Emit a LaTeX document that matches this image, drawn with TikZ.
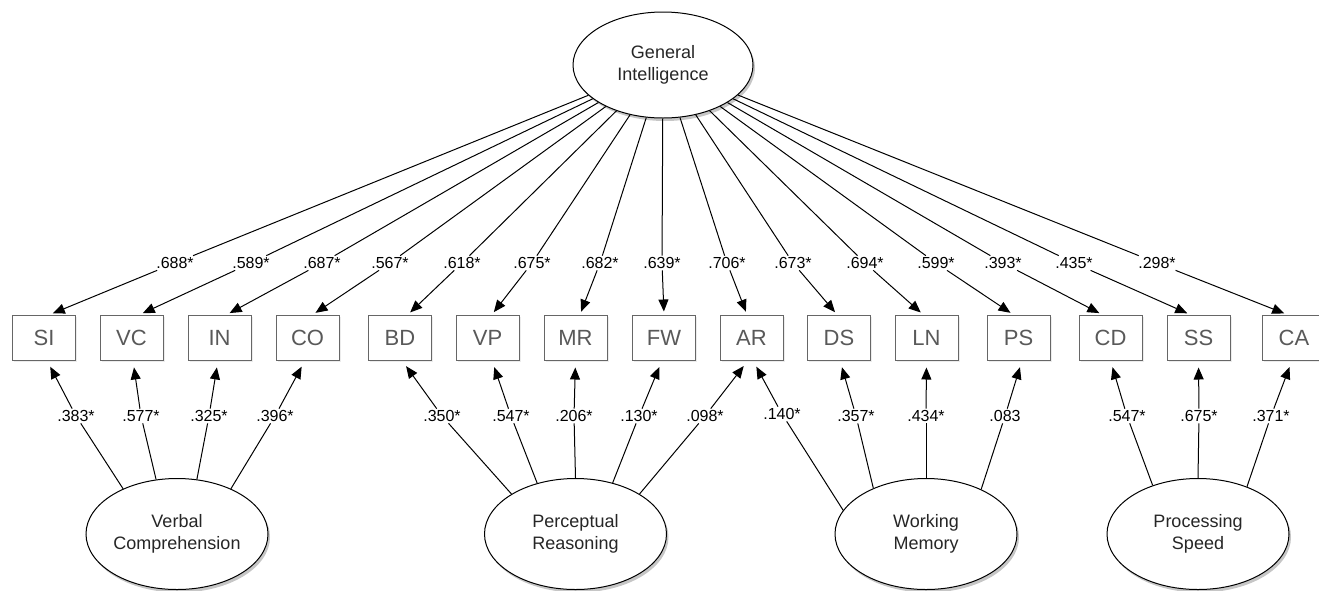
\documentclass[tikz,border=0pt]{standalone}
\usepackage{fontspec}
\setmainfont{Liberation Sans}
\usetikzlibrary{arrows.meta,shapes.geometric,shadows}
\begin{document}
\begin{tikzpicture}[x=1pt,y=-1pt,
  lat/.style={ellipse,draw=black,line width=1pt,fill=white,inner sep=0pt,
    align=center,text=black!85,font=\fontsize{18}{21.5}\selectfont,
    drop shadow={opacity=0.45,shadow xshift=2pt,shadow yshift=-3pt}},
  ind/.style={rectangle,draw=black!60,line width=1pt,fill=white,
    minimum width=63pt,minimum height=45pt,inner sep=0pt,
    text=black!65,font=\fontsize{22}{26}\selectfont,
    drop shadow={opacity=0.15,shadow xshift=1.5pt,shadow yshift=-1.5pt}},
  lbl/.style={fill=white,inner sep=1.5pt,font=\fontsize{16}{19}\selectfont},
  conn/.style={line width=1pt,draw=black},
  arr/.style={conn,-{Triangle[length=12pt,width=10pt]}},
  arrup/.style={arr,shorten >=3pt},
  arrlo/.style={arr,shorten >=7pt}]
\useasboundingbox (0,0) rectangle (1319,590);

% latent variables
\node[lat,minimum width=180pt,minimum height=106pt] (G) at (663,65) {General\\Intelligence};
\node[lat,minimum width=182pt,minimum height=111pt] (VCf) at (177,534) {Verbal\\Comprehension};
\node[lat,minimum width=182pt,minimum height=111pt] (PRf) at (575.5,534) {Perceptual\\Reasoning};
\node[lat,minimum width=182pt,minimum height=111pt] (WMf) at (926,534) {Working\\Memory};
\node[lat,minimum width=182pt,minimum height=111pt] (PSf) at (1198,534) {Processing\\Speed};

% indicators
\node[ind] (SI) at (44,337.5) {SI};
\node[ind] (VC) at (131.5,337.5) {VC};
\node[ind] (IN) at (219.5,337.5) {IN};
\node[ind] (CO) at (307.5,337.5) {CO};
\node[ind] (BD) at (400,337.5) {BD};
\node[ind] (VP) at (487.5,337.5) {VP};
\node[ind] (MR) at (575.5,337.5) {MR};
\node[ind] (FW) at (664,337.5) {FW};
\node[ind] (AR) at (751.5,337.5) {AR};
\node[ind] (DS) at (839,337.5) {DS};
\node[ind] (LN) at (926.5,337.5) {LN};
\node[ind] (PS) at (1018.5,337.5) {PS};
\node[ind] (CD) at (1110.5,337.5) {CD};
\node[ind] (SS) at (1198.5,337.5) {SS};
\node[ind] (CA) at (1294,337.5) {CA};

% general factor loadings
\foreach \lx/\val/\bx/\dx in {175/.688*/SI/6, 251/.589*/VC/8.5, 322/.687*/IN/7.5,
  390/.567*/CO/5.5, 462/.618*/BD/8, 532/.675*/VP/4.5, 600/.682*/MR/4.5,
  662/.639*/FW/0, 727/.706*/AR/-4.5, 793/.673*/DS/-2, 865/.694*/LN/-3.5,
  936/.599*/PS/-5.5, 1003/.393*/CD/-8.5, 1074/.435*/SS/-8.5, 1157/.298*/CA/-7}{
  \node[lbl] (g\bx) at (\lx,263) {\val};
  \draw[conn] (G) -- (g\bx);
  \draw[arrup] (g\bx) -- ([xshift=\dx pt]\bx.north);
}

% group factor loadings
\foreach \fac/\ang/\lx/\ly/\val/\bx/\dx/\nm in {
  VCf/140/76/416/.383*/SI/3/a, VCf/111/141/416/.577*/VC/1.5/b,
  VCf/70/209/416/.325*/IN/-1.5/c, VCf/40/275/416/.396*/CO/-2.5/d,
  PRf/148/442/416/.350*/BD/2/e, PRf/127/511/416/.547*/VP/4.5/f,
  PRf/90/574/416/.206*/MR/0/g, PRf/54/639/416/.130*/FW/-2/h,
  PRf/32/705/416/.098*/AR/-3.5/i, WMf/164/782/414/.140*/AR/1.5/j,
  WMf/139/856/416/.357*/DS/1/k, WMf/90/926/416/.434*/LN/0/l,
  WMf/39/1005/416/.083/PS/3.5/m, PSf/133/1127/416/.547*/CD/0/n,
  PSf/90/1199/416/.675*/SS/0/o, PSf/44/1271/416/.371*/CA/-2/p}{
  \node[lbl] (s\nm) at (\lx,\ly) {\val};
  \draw[conn] (\fac.\ang) -- (s\nm);
  \draw[arrlo] (s\nm) -- ([xshift=\dx pt]\bx.south);
}
\end{tikzpicture}
\end{document}
